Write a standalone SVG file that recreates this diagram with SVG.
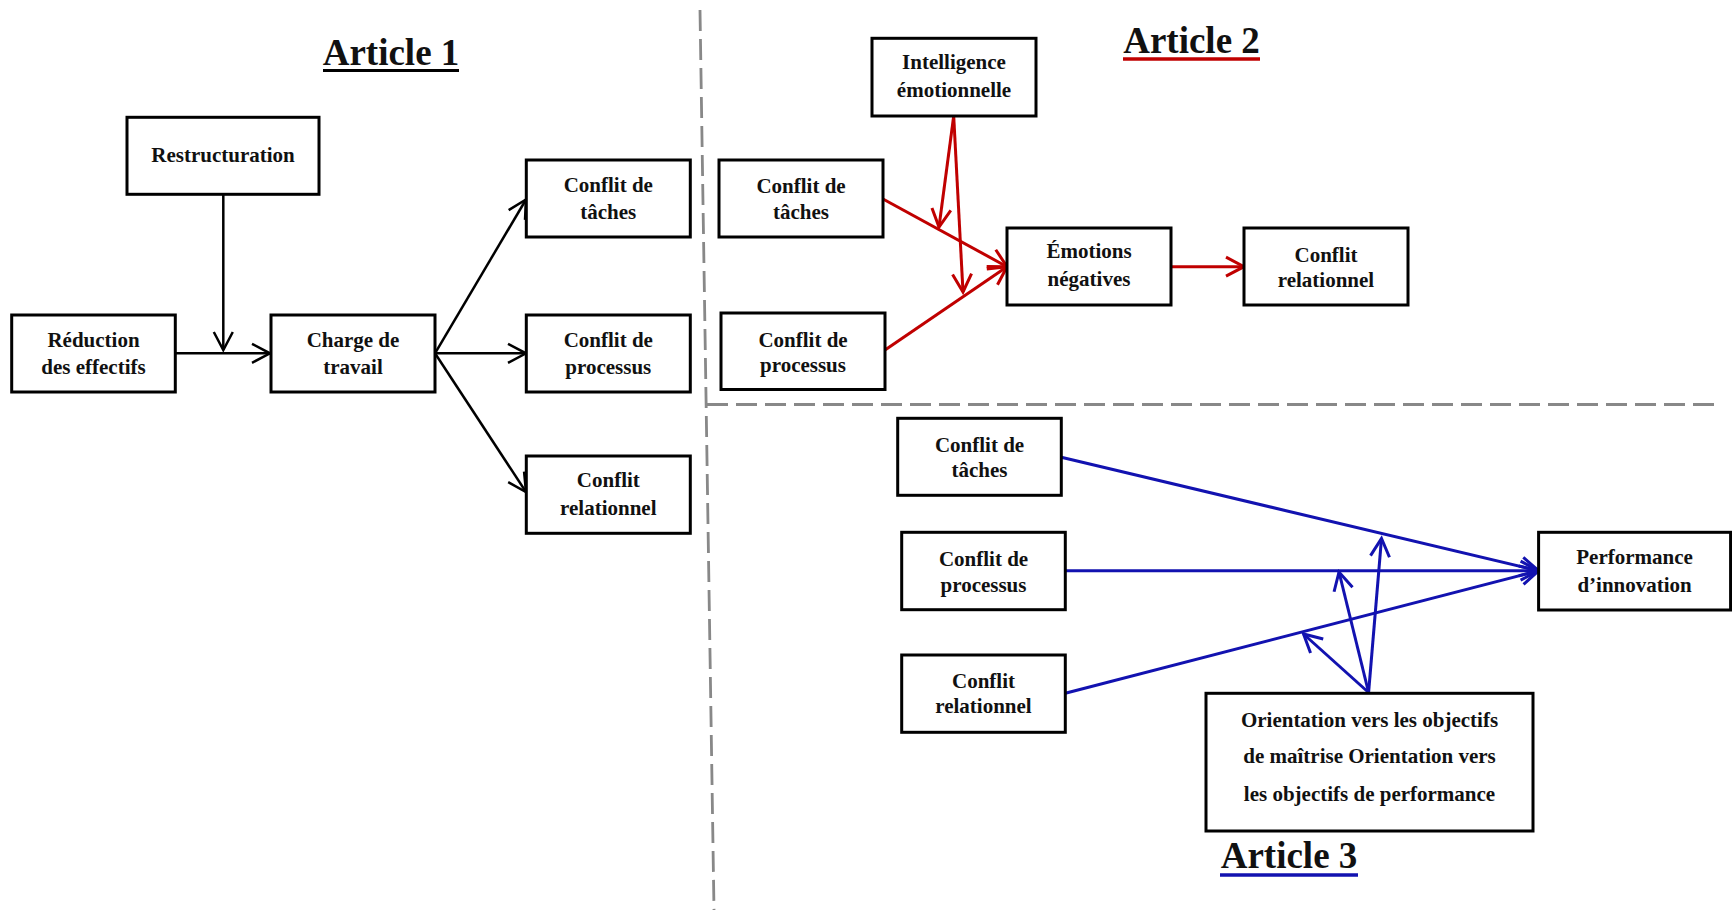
<svg xmlns="http://www.w3.org/2000/svg" width="1732" height="910" viewBox="0 0 1732 910">
<style>
.box{fill:#fff;stroke:#000;stroke-width:3}
.t{font-family:"Liberation Serif","Times New Roman",serif;font-weight:bold;font-size:21px;fill:#111;text-anchor:middle}
.title{font-family:"Liberation Serif","Times New Roman",serif;font-weight:bold;font-size:37px;fill:#111;text-anchor:middle}
.k{stroke:#000;stroke-width:2.5;fill:none}
.r{stroke:#C00000;stroke-width:3;fill:none}
.b{stroke:#1212B0;stroke-width:3;fill:none}
.dash{stroke:#888;stroke-width:2.8;stroke-dasharray:21 8;fill:none}
</style>
<defs>
<marker id="mk" markerUnits="userSpaceOnUse" markerWidth="40" markerHeight="40" viewBox="-30 -20 40 40" refX="0" refY="0" orient="auto"><path d="M-18,-9.5 L0,0 L-18,9.5" fill="none" stroke="#000" stroke-width="2.5"/></marker>
<marker id="mr" markerUnits="userSpaceOnUse" markerWidth="40" markerHeight="40" viewBox="-30 -20 40 40" refX="0" refY="0" orient="auto"><path d="M-18,-9.5 L0,0 L-18,9.5" fill="none" stroke="#C00000" stroke-width="3"/></marker>
<marker id="mb" markerUnits="userSpaceOnUse" markerWidth="40" markerHeight="40" viewBox="-30 -20 40 40" refX="0" refY="0" orient="auto"><path d="M-18,-9.5 L0,0 L-18,9.5" fill="none" stroke="#1212B0" stroke-width="3"/></marker>
</defs>
<rect width="1732" height="910" fill="#fff"/>

<g id="separators">
<line class="dash" x1="700" y1="10" x2="714" y2="910"/>
<line class="dash" x1="707" y1="404.5" x2="1722" y2="404.5"/>
</g>

<g id="titles">
<text class="title" x="391" y="65">Article 1</text>
<line x1="323" y1="70.5" x2="459" y2="70.5" stroke="#000" stroke-width="3"/>
<text class="title" x="1191.5" y="53">Article 2</text>
<line x1="1123" y1="59" x2="1260" y2="59" stroke="#C00000" stroke-width="3.5"/>
<text class="title" x="1289" y="868">Article 3</text>
<line x1="1220" y1="875" x2="1358" y2="875" stroke="#1212B0" stroke-width="3.5"/>
</g>

<g id="connectors">
<line class="k" x1="223.3" y1="194" x2="223.3" y2="350" marker-end="url(#mk)"/>
<line class="k" x1="175" y1="353.3" x2="270" y2="353.3" marker-end="url(#mk)"/>
<line class="k" x1="435" y1="353.3" x2="526" y2="199.5" marker-end="url(#mk)"/>
<line class="k" x1="435" y1="353.3" x2="526" y2="353.3" marker-end="url(#mk)"/>
<line class="k" x1="435" y1="353.3" x2="526" y2="492" marker-end="url(#mk)"/>

<line class="r" x1="883" y1="199" x2="1007" y2="266.7" marker-end="url(#mr)"/>
<line class="r" x1="885" y1="350" x2="1007" y2="266.7" marker-end="url(#mr)"/>
<line class="r" x1="953.7" y1="116" x2="939" y2="227" marker-end="url(#mr)"/>
<line class="r" x1="953.7" y1="116" x2="963" y2="292" marker-end="url(#mr)"/>
<line class="r" x1="1171" y1="266.7" x2="1244" y2="266.7" marker-end="url(#mr)"/>

<line class="b" x1="1061.3" y1="457.3" x2="1538.6" y2="570.7" marker-end="url(#mb)"/>
<line class="b" x1="1065.3" y1="570.7" x2="1538.6" y2="570.7" marker-end="url(#mb)"/>
<line class="b" x1="1065.3" y1="693.3" x2="1538.6" y2="570.7" marker-end="url(#mb)"/>
<line class="b" x1="1368.6" y1="692.5" x2="1381.5" y2="538.5" marker-end="url(#mb)"/>
<line class="b" x1="1368.6" y1="692.5" x2="1339" y2="572" marker-end="url(#mb)"/>
<line class="b" x1="1368.6" y1="692.5" x2="1303.5" y2="634" marker-end="url(#mb)"/>
</g>

<g id="a1-restructuration">
<rect class="box" x="127" y="117.3" width="192" height="77"/>
<text class="t" x="223" y="161.7">Restructuration</text>
</g>
<g id="a1-reduction">
<rect class="box" x="11.7" y="315" width="163.6" height="77"/>
<text class="t" x="93.5" y="346.7">Réduction</text>
<text class="t" x="93.5" y="374">des effectifs</text>
</g>
<g id="a1-charge">
<rect class="box" x="271" y="315" width="164" height="77"/>
<text class="t" x="353" y="346.7">Charge de</text>
<text class="t" x="353" y="374">travail</text>
</g>
<g id="a1-taches">
<rect class="box" x="526.3" y="160" width="164" height="77"/>
<text class="t" x="608.3" y="191.7">Conflit de</text>
<text class="t" x="608.3" y="219">tâches</text>
</g>
<g id="a1-processus">
<rect class="box" x="526.3" y="315" width="164" height="77"/>
<text class="t" x="608.3" y="346.7">Conflit de</text>
<text class="t" x="608.3" y="373.5">processus</text>
</g>
<g id="a1-relationnel">
<rect class="box" x="526.3" y="456" width="164" height="77.3"/>
<text class="t" x="608.3" y="486.7">Conflit</text>
<text class="t" x="608.3" y="515">relationnel</text>
</g>

<g id="a2-intelligence">
<rect class="box" x="872" y="38.3" width="164" height="77.7"/>
<text class="t" x="954" y="69">Intelligence</text>
<text class="t" x="954" y="96.7">émotionnelle</text>
</g>
<g id="a2-taches">
<rect class="box" x="719" y="160" width="164" height="77"/>
<text class="t" x="801" y="193.3">Conflit de</text>
<text class="t" x="801" y="219">tâches</text>
</g>
<g id="a2-processus">
<rect class="box" x="721" y="313" width="164" height="76.5"/>
<text class="t" x="803" y="346.7">Conflit de</text>
<text class="t" x="803" y="371.7">processus</text>
</g>
<g id="a2-emotions">
<rect class="box" x="1007" y="228" width="164" height="77"/>
<text class="t" x="1089" y="258.3">Émotions</text>
<text class="t" x="1089" y="286">négatives</text>
</g>
<g id="a2-relationnel">
<rect class="box" x="1244" y="228" width="164" height="77"/>
<text class="t" x="1326" y="262">Conflit</text>
<text class="t" x="1326" y="287">relationnel</text>
</g>

<g id="a3-taches">
<rect class="box" x="897.7" y="418.3" width="163.6" height="77"/>
<text class="t" x="979.5" y="452.3">Conflit de</text>
<text class="t" x="979.5" y="477.3">tâches</text>
</g>
<g id="a3-processus">
<rect class="box" x="901.7" y="532.3" width="163.6" height="77.4"/>
<text class="t" x="983.5" y="566">Conflit de</text>
<text class="t" x="983.5" y="591.7">processus</text>
</g>
<g id="a3-relationnel">
<rect class="box" x="901.7" y="655" width="163.6" height="77.3"/>
<text class="t" x="983.5" y="688.3">Conflit</text>
<text class="t" x="983.5" y="713.3">relationnel</text>
</g>
<g id="a3-performance">
<rect class="box" x="1538.6" y="532.3" width="192" height="77.7"/>
<text class="t" x="1634.6" y="564">Performance</text>
<text class="t" x="1634.6" y="591.7">d’innovation</text>
</g>
<g id="a3-orientation">
<rect class="box" x="1206" y="693.3" width="327" height="137.7"/>
<text class="t" x="1369.5" y="726.7">Orientation vers les objectifs</text>
<text class="t" x="1369.5" y="763.3">de maîtrise Orientation vers</text>
<text class="t" x="1369.5" y="800.7">les objectifs de performance</text>
</g>
</svg>
